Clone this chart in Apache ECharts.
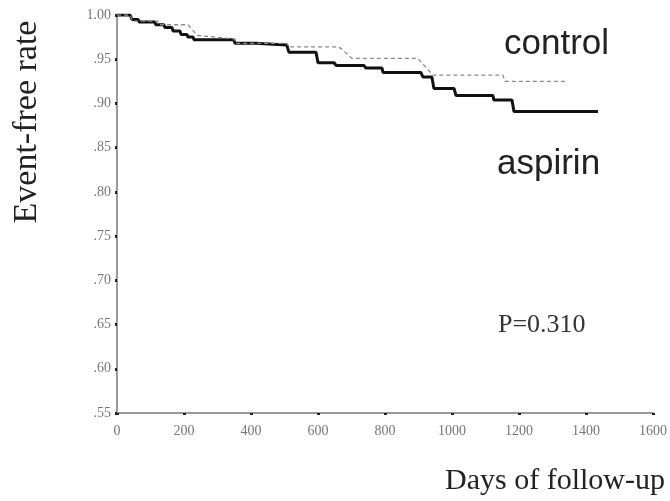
<!DOCTYPE html>
<html>
<head>
<meta charset="utf-8">
<script src="https://cdn.jsdelivr.net/npm/echarts@6/dist/echarts.min.js"></script>
<style>html,body{margin:0;padding:0;background:#fff}#c{width:670px;height:501px}</style>
</head>
<body>
<div id="c"></div>
<script>
const aspirinDays = [0,39,45,63,66,113,116,140,143,164,167,188,191,209,212,227,230,349,352,412,415,507,513,594,600,648,654,737,743,791,794,907,913,940,946,1006,1012,1122,1125,1179,1185,1436];
const aspirinRate = [1.000,1.000,0.995,0.995,0.992,0.992,0.989,0.989,0.986,0.986,0.982,0.982,0.978,0.978,0.975,0.975,0.972,0.972,0.968,0.968,0.966,0.966,0.958,0.958,0.946,0.946,0.943,0.943,0.940,0.940,0.935,0.935,0.930,0.930,0.917,0.917,0.909,0.909,0.904,0.904,0.891,0.891];
const controlDays = [0,39,48,122,128,212,239,293,349,355,507,513,660,669,701,898,943,1152,1158,1346];
const controlRate = [1.000,1.000,0.993,0.993,0.989,0.989,0.977,0.975,0.973,0.968,0.968,0.964,0.964,0.962,0.951,0.951,0.932,0.932,0.925,0.925];
const yTickLabels = ['.55','.60','.65','.70','.75','.80','.85','.90','.95','1.00'];
const xTickLabels = ['0','200','400','600','800','1000','1200','1400','1600'];

const pairs = (xs, ys) => xs.map((x, i) => [x, ys[i]]);
const chart = echarts.init(document.getElementById('c'));
const axisLabelStyle = {fontFamily: 'Liberation Serif', fontSize: 14, color: '#777'};
chart.setOption({
  animation: false,
  backgroundColor: '#fff',
  grid: {left: 117, right: 17, top: 15, bottom: 88, containLabel: false},
  xAxis: {
    type: 'value', min: 0, max: 1600, interval: 200,
    axisLine: {show: true, lineStyle: {color: '#999', width: 2}},
    axisTick: {show: true, length: 2, lineStyle: {color: '#222', width: 3}},
    splitLine: {show: false},
    axisLabel: Object.assign({margin: 11, formatter: v => xTickLabels[Math.round(v / 200)]}, axisLabelStyle)
  },
  yAxis: {
    type: 'value', min: 0.55, max: 1.0, interval: 0.05,
    axisLine: {show: true, lineStyle: {color: '#999', width: 2}},
    axisTick: {show: true, length: 2, lineStyle: {color: '#222', width: 3}},
    splitLine: {show: false},
    axisLabel: Object.assign({margin: 6, formatter: v => yTickLabels[Math.round((v - 0.55) / 0.05)]}, axisLabelStyle)
  },
  series: [
    {
      name: 'control', type: 'line', data: pairs(controlDays, controlRate),
      showSymbol: false, symbol: 'none', z: 3,
      lineStyle: {color: '#8a8a8a', width: 1.3, type: [4, 3]}
    },
    {
      name: 'aspirin', type: 'line', data: pairs(aspirinDays, aspirinRate),
      showSymbol: false, symbol: 'none', z: 2,
      lineStyle: {color: '#111', width: 3}
    }
  ],
  graphic: [
    {type: 'text', left: 504, top: 27, style: {text: 'control', font: '35px "Liberation Sans"', fill: '#222'}},
    {type: 'text', left: 497, top: 147, style: {text: 'aspirin', font: '35px "Liberation Sans"', fill: '#222'}},
    {type: 'text', left: 498, top: 312, style: {text: 'P=0.310', font: '26px "Liberation Serif"', fill: '#333'}},
    {type: 'text', left: 445, top: 466, style: {text: 'Days of follow-up', font: '30px "Liberation Serif"', fill: '#222'}},
    {type: 'text', x: 27, y: 122, rotation: Math.PI / 2, style: {text: 'Event-free rate', font: '34px "Liberation Serif"', fill: '#222', align: 'center', verticalAlign: 'middle'}}
  ]
});
</script>
</body>
</html>
